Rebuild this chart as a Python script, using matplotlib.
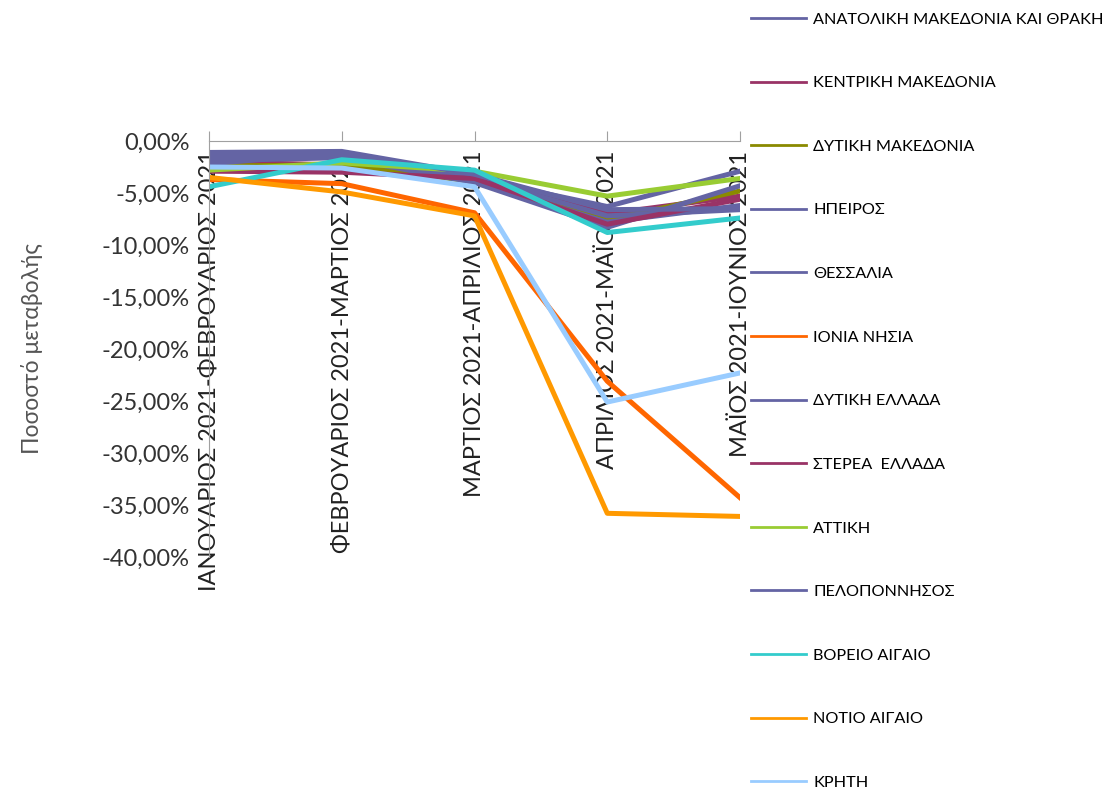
import matplotlib
matplotlib.use("Agg")
import matplotlib.pyplot as plt
from matplotlib.ticker import FuncFormatter, MultipleLocator

plt.rcParams['font.family'] = ['Lato', 'Open Sans', 'DejaVu Sans']

# periods (x categories)
periods = [
    "ΙΑΝΟΥΑΡΙΟΣ 2021-ΦΕΒΡΟΥΑΡΙΟΣ 2021",
    "ΦΕΒΡΟΥΑΡΙΟΣ 2021-ΜΑΡΤΙΟΣ 2021",
    "ΜΑΡΤΙΟΣ 2021-ΑΠΡΙΛΙΟΣ 2021",
    "ΑΠΡΙΛΙΟΣ 2021-ΜΑΪΟΣ 2021",
    "ΜΑΪΟΣ 2021-ΙΟΥΝΙΟΣ 2021",
]

regions = [
    "ΑΝΑΤΟΛΙΚΗ ΜΑΚΕΔΟΝΙΑ ΚΑΙ ΘΡΑΚΗ",
    "ΚΕΝΤΡΙΚΗ ΜΑΚΕΔΟΝΙΑ",
    "ΔΥΤΙΚΗ ΜΑΚΕΔΟΝΙΑ",
    "ΗΠΕΙΡΟΣ",
    "ΘΕΣΣΑΛΙΑ",
    "ΙΟΝΙΑ ΝΗΣΙΑ",
    "ΔΥΤΙΚΗ ΕΛΛΑΔΑ",
    "ΣΤΕΡΕΑ  ΕΛΛΑΔΑ",
    "ΑΤΤΙΚΗ",
    "ΠΕΛΟΠΟΝΝΗΣΟΣ",
    "ΒΟΡΕΙΟ ΑΙΓΑΙΟ",
    "ΝΟΤΙΟ ΑΙΓΑΙΟ",
    "ΚΡΗΤΗ",
]

# percentage change per region, one value per period
anat_makedonia = [-1.3, -1.2, -3.6, -6.3, -2.9]
kentr_makedonia = [-2.0, -2.3, -3.4, -7.0, -5.3]
dyt_makedonia = [-2.4, -2.3, -3.9, -7.6, -4.8]
ipeiros = [-1.6, -1.4, -3.9, -7.8, -6.2]
thessalia = [-1.9, -1.6, -4.0, -8.3, -4.3]
ionia = [-3.7, -4.1, -6.9, -23.1, -34.3]
dyt_ellada = [-2.2, -1.1, -3.5, -7.2, -6.6]
sterea = [-2.9, -3.0, -3.6, -8.0, -5.6]
attiki = [-2.8, -2.1, -2.9, -5.3, -3.6]
peloponnisos = [-1.1, -1.0, -3.2, -6.6, -6.5]
voreio_aigaio = [-4.4, -1.8, -2.8, -8.8, -7.4]
notio_aigaio = [-3.5, -4.9, -7.2, -35.8, -36.1]
kriti = [-2.5, -2.6, -4.4, -25.1, -22.3]

values = [anat_makedonia, kentr_makedonia, dyt_makedonia, ipeiros, thessalia,
          ionia, dyt_ellada, sterea, attiki, peloponnisos, voreio_aigaio,
          notio_aigaio, kriti]

colors = ["#6464a4", "#993366", "#8a8a00", "#6464a4", "#6464a4",
          "#ff6600", "#6464a4", "#993366", "#99cc33", "#6464a4",
          "#33cccc", "#ff9900", "#99ccff"]

fig = plt.figure(figsize=(11.07, 7.94), dpi=100)
ax = fig.add_axes([0.1888, 0.2985, 0.4797, 0.5239])

x = range(len(periods))
handles = []
for name, vals, c in zip(regions, values, colors):
    ax.plot(x, vals, color=c, lw=3.6, solid_joinstyle='round')
    h, = plt.plot([], [], color=c, lw=2)
    handles.append(h)

ax.set_xlim(0, len(periods) - 1)
ax.set_ylim(-40, 0)
ax.yaxis.set_major_locator(MultipleLocator(5))
ax.yaxis.set_major_formatter(FuncFormatter(lambda v, p: f"{v:.2f}%".replace(".", ",")))

ax.spines['top'].set_visible(False)
ax.spines['right'].set_visible(False)
ax.spines['bottom'].set_position(('data', 0))
ax.spines['bottom'].set_color('#a0a0a0')
ax.spines['left'].set_color('#a0a0a0')

ax.set_xticks(list(x))
ax.set_xticklabels(periods, rotation=90, fontsize=17, color='#222222')
ax.tick_params(axis='x', direction='in', length=7, color='#a0a0a0', pad=7)
ax.tick_params(axis='y', length=0, labelsize=17, labelcolor='#333333', pad=14)

ax.set_ylabel("Ποσοστό μεταβολής", fontsize=16.5, color='#555555', labelpad=42)

fig.legend(handles, regions, loc='upper left', bbox_to_anchor=(0.665, 1.003),
           frameon=False, fontsize=11.7, labelspacing=3.03, handlelength=3.4,
           handletextpad=0.45)

fig.savefig("out.png", dpi=100)
